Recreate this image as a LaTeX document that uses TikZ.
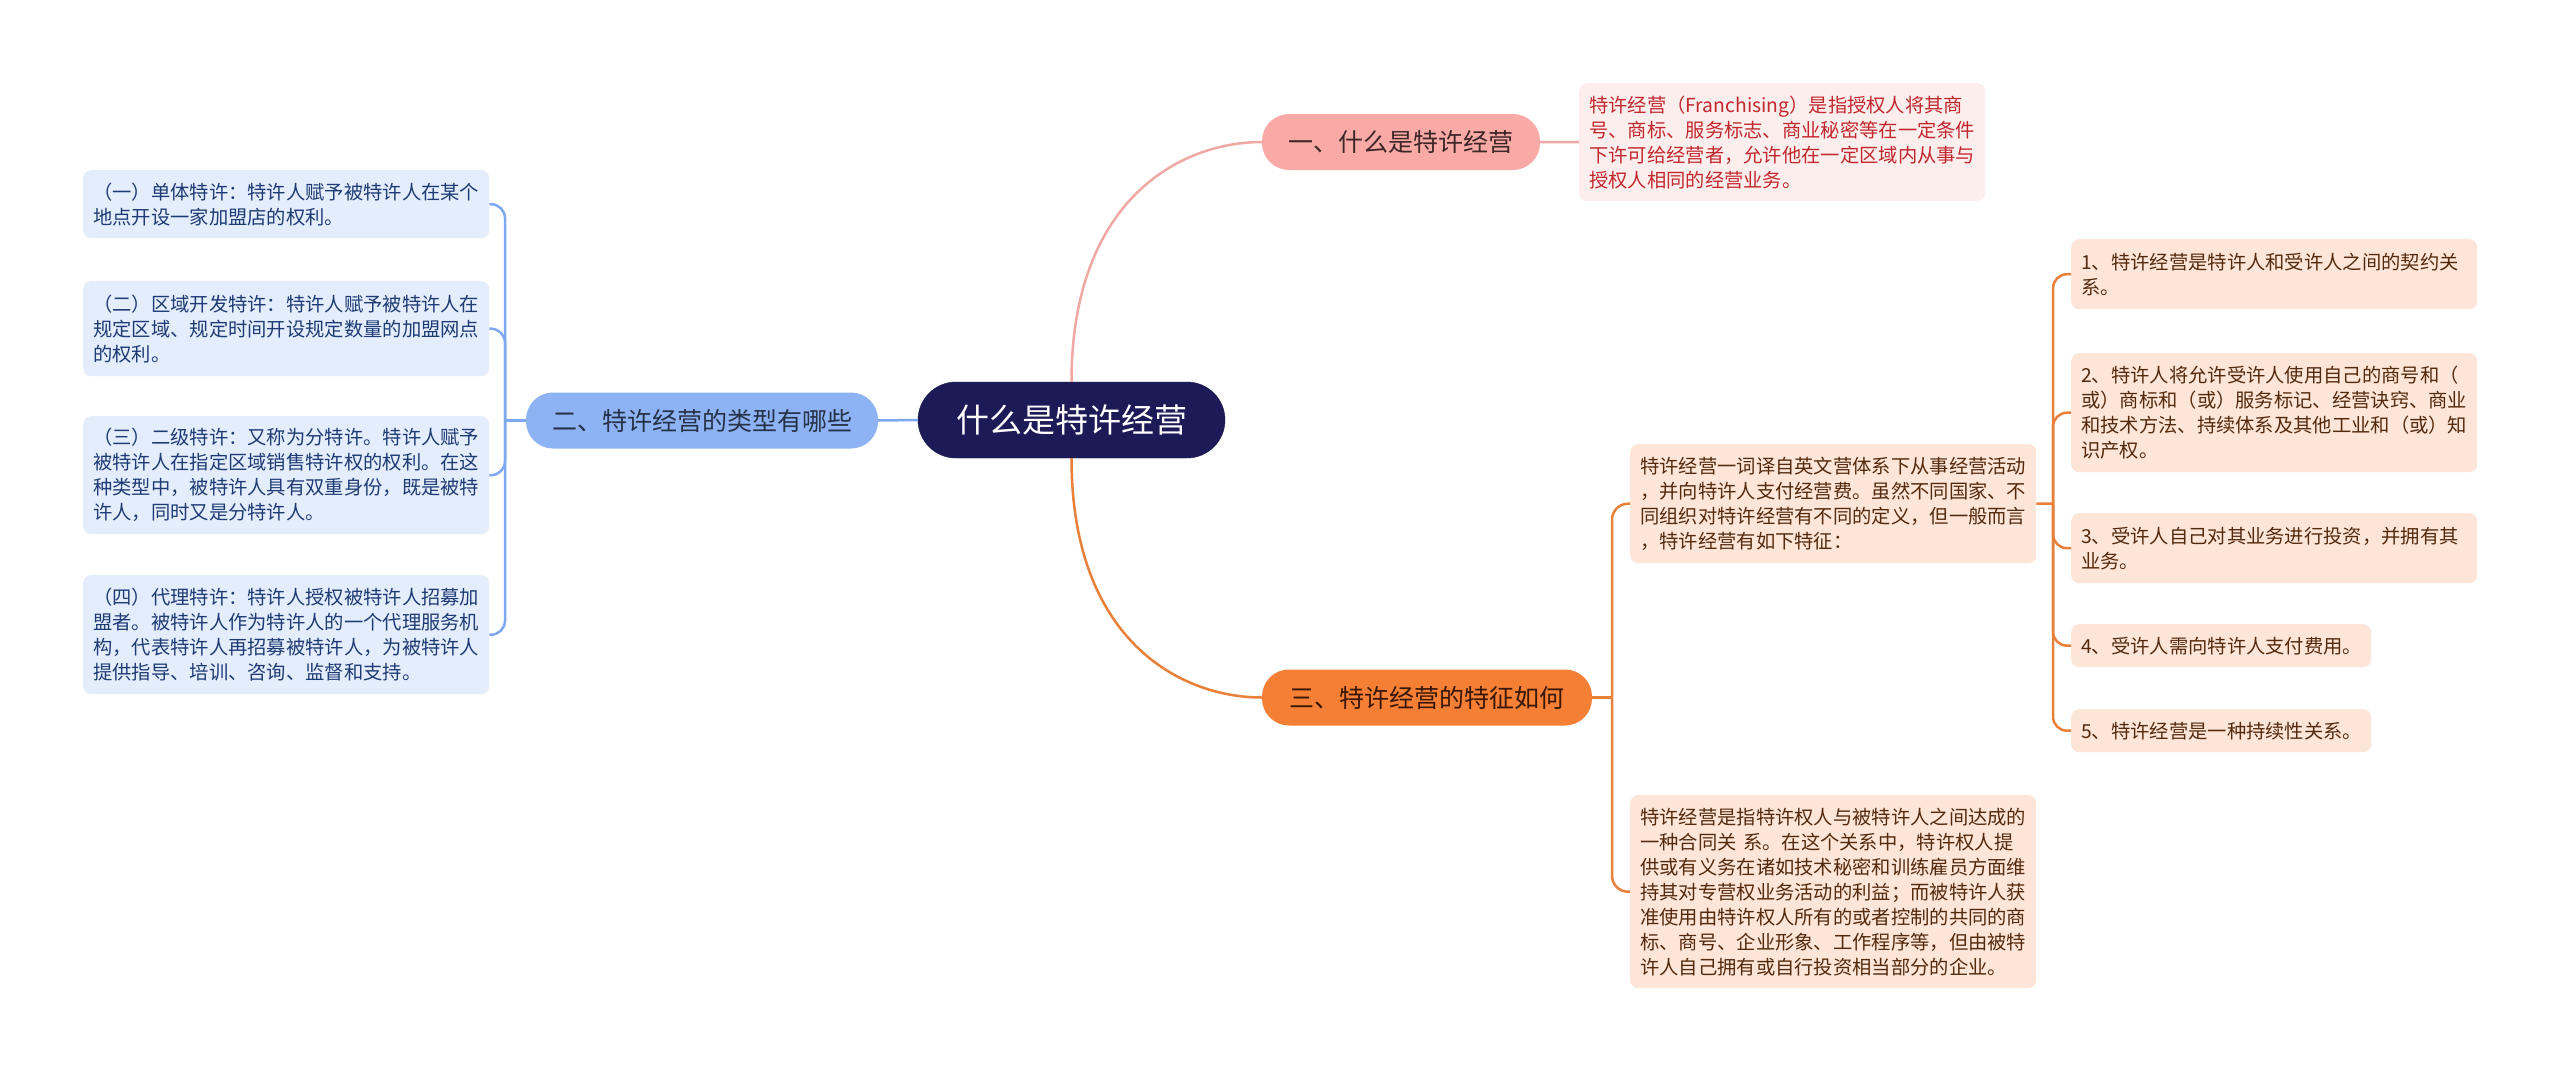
\documentclass[tikz,border=0pt]{standalone}
\usepackage{fontspec}
\setmainfont{Noto Sans CJK SC}
\definecolor{cfill}{HTML}{1D1A58}
\definecolor{bonefill}{HTML}{F9AAA6}
\definecolor{bonetext}{HTML}{3D2626}
\definecolor{pfill}{HTML}{FDEEEE}
\definecolor{ptext}{HTML}{C1282E}
\definecolor{btwofill}{HTML}{8DB3F4}
\definecolor{btwotext}{HTML}{263248}
\definecolor{lfill}{HTML}{E4EDFC}
\definecolor{ltext}{HTML}{1E3B74}
\definecolor{bthreefill}{HTML}{F57F35}
\definecolor{bthreetext}{HTML}{3A1706}
\definecolor{rfill}{HTML}{FDE5D8}
\definecolor{rtext}{HTML}{542A0E}
\definecolor{pinkline}{HTML}{F0A8A4}
\definecolor{blueline}{HTML}{7EA8EF}
\definecolor{orangeline}{HTML}{E8803A}
\tikzset{
  det/.style={rounded corners=8pt, align=left, text width=386pt, inner xsep=10pt, inner ysep=0pt,
    anchor=north west, font=\fontsize{19.3pt}{25pt}\selectfont},
  ldet/.style={det, fill=lfill, text=ltext},
  rdet/.style={det, fill=rfill, text=rtext},
  pdet/.style={det, fill=pfill, text=ptext},
  branch/.style={rounded corners=27pt, minimum height=56pt, inner sep=0pt,
    font=\fontsize{25pt}{30pt}\selectfont},
  centralnode/.style={rounded corners=38pt, minimum height=76pt, minimum width=307pt, inner sep=0pt,
    fill=cfill, draw=cfill!80!black, text=white, font=\fontsize{33pt}{38pt}\selectfont},
  conn/.style={line width=2.5pt},
  pinkconn/.style={conn, draw=pinkline},
  blueconn/.style={conn, draw=blueline},
  orangeconn/.style={conn, draw=orangeline},
}
\begin{document}
\begin{tikzpicture}[x=1pt,y=-1pt]
\useasboundingbox (0,0) rectangle (2560,1071);
\fill[white] (0,0) rectangle (2560,1071);

% central
\node[centralnode] (c) at (1071.5,420) {什么是特许经营};

% branch 1
\node[branch, fill=bonefill, text=bonetext, minimum width=278pt] (b1) at (1401,142) {一、什么是特许经营};
\node[pdet, minimum height=118pt] (p1) at (1579,83) {特许经营（Franchising）是指授权人将其商\\号、商标、服务标志、商业秘密等在一定条件\\下许可给经营者，允许他在一定区域内从事与\\授权人相同的经营业务。};

% branch 2
\node[branch, fill=btwofill, text=btwotext, minimum width=352pt] (b2) at (702,420.5) {二、特许经营的类型有哪些};
\node[ldet, minimum height=68pt] (l1) at (83,170) {（一）单体特许：特许人赋予被特许人在某个\\地点开设一家加盟店的权利。};
\node[ldet, minimum height=95pt] (l2) at (83,281) {（二）区域开发特许：特许人赋予被特许人在\\规定区域、规定时间开设规定数量的加盟网点\\的权利。};
\node[ldet, minimum height=118pt] (l3) at (83,416) {（三）二级特许：又称为分特许。特许人赋予\\被特许人在指定区域销售特许权的权利。在这\\种类型中，被特许人具有双重身份，既是被特\\许人，同时又是分特许人。};
\node[ldet, minimum height=119pt] (l4) at (83,575) {（四）代理特许：特许人授权被特许人招募加\\盟者。被特许人作为特许人的一个代理服务机\\构，代表特许人再招募被特许人，为被特许人\\提供指导、培训、咨询、监督和支持。};

% branch 3
\node[branch, fill=bthreefill, text=bthreetext, minimum width=330pt] (b3) at (1427,697.5) {三、特许经营的特征如何};
\node[rdet, minimum height=119pt] (ra) at (1630,444) {特许经营一词译自英文营体系下从事经营活动\\，并向特许人支付经营费。虽然不同国家、不\\同组织对特许经营有不同的定义，但一般而言\\，特许经营有如下特征：};
\node[rdet, minimum height=193pt] (rb) at (1630,795) {特许经营是指特许权人与被特许人之间达成的\\一种合同关 系。在这个关系中，特许权人提\\供或有义务在诸如技术秘密和训练雇员方面维\\持其对专营权业务活动的利益；而被特许人获\\准使用由特许权人所有的或者控制的共同的商\\标、商号、企业形象、工作程序等，但由被特\\许人自己拥有或自行投资相当部分的企业。};

\node[rdet, minimum height=70pt] (f1) at (2071,239) {1、特许经营是特许人和受许人之间的契约关\\系。};
\node[rdet, minimum height=119pt] (f2) at (2071,353) {2、特许人将允许受许人使用自己的商号和（\\或）商标和（或）服务标记、经营诀窍、商业\\和技术方法、持续体系及其他工业和（或）知\\识产权。};
\node[rdet, minimum height=70pt] (f3) at (2071,513) {3、受许人自己对其业务进行投资，并拥有其\\业务。};
\node[rdet, minimum height=43pt, text width=280pt] (f4) at (2071,624) {4、受许人需向特许人支付费用。};
\node[rdet, minimum height=43pt, text width=280pt] (f5) at (2071,709) {5、特许经营是一种持续性关系。};

% connectors
\draw[pinkconn] (c.north) .. controls (1071.5,200) and (1180,142) .. (b1.west);
\draw[pinkconn] (b1.east) -- (p1.west);

\draw[blueconn] (c.west) -- (b2.east);
\coordinate (bj) at (505,420.5);
\draw[blueconn] (b2.west) -- (bj);
\foreach \n in {l1,l2,l3,l4}{
  \draw[blueconn, rounded corners=14pt] (bj) |- (\n.east);
}

\draw[orangeconn] (c.south) .. controls (1071.5,640) and (1180,697.5) .. (b3.west);
\coordinate (oj) at (1612,697.5);
\draw[orangeconn] (b3.east) -- (oj);
\foreach \n in {ra,rb}{
  \draw[orangeconn, rounded corners=16pt] (oj) |- (\n.west);
}
\coordinate (fj) at (2053,503.5);
\draw[orangeconn] (ra.east) -- (fj);
\foreach \n in {f1,f2,f3,f4,f5}{
  \draw[orangeconn, rounded corners=14pt] (fj) |- (\n.west);
}
\end{tikzpicture}
\end{document}
